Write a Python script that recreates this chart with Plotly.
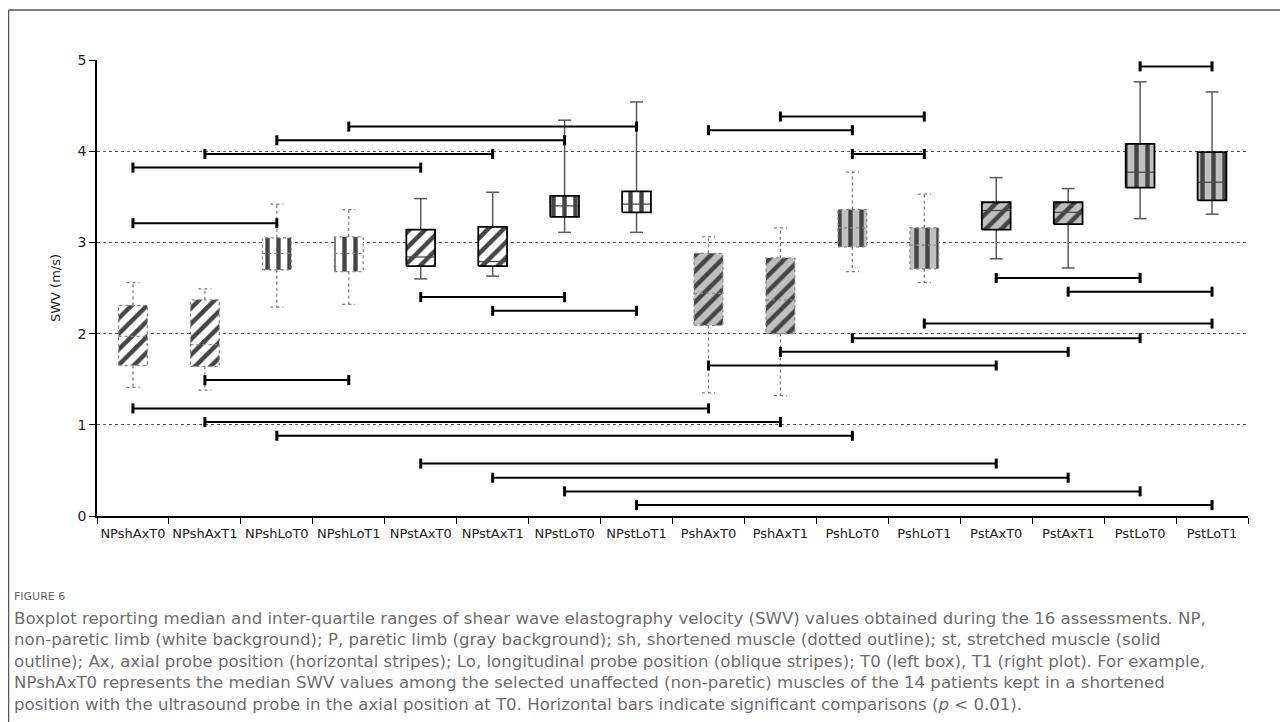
import plotly.graph_objects as go

# ---------------- data ----------------
categories = ["NPshAxT0", "NPshAxT1", "NPshLoT0", "NPshLoT1", "NPstAxT0", "NPstAxT1",
              "NPstLoT0", "NPstLoT1", "PshAxT0", "PshAxT1", "PshLoT0", "PshLoT1",
              "PstAxT0", "PstAxT1", "PstLoT0", "PstLoT1"]
q1 = [1.65, 1.64, 2.70, 2.68, 2.74, 2.74, 3.28, 3.33, 2.09, 2.00, 2.95, 2.71, 3.14, 3.20, 3.60, 3.46]
median = [1.97, 1.88, 2.88, 2.88, 2.84, 2.79, 3.40, 3.42, 2.44, 2.37, 3.16, 2.97, 3.35, 3.33, 3.77, 3.66]
q3 = [2.31, 2.37, 3.05, 3.06, 3.14, 3.17, 3.51, 3.56, 2.88, 2.83, 3.36, 3.16, 3.44, 3.44, 4.08, 3.99]
whisker_low = [1.41, 1.38, 2.29, 2.32, 2.60, 2.63, 3.11, 3.11, 1.35, 1.32, 2.68, 2.56, 2.82, 2.72, 3.26, 3.31]
whisker_high = [2.56, 2.49, 3.42, 3.36, 3.48, 3.55, 4.34, 4.54, 3.06, 3.16, 3.77, 3.53, 3.71, 3.59, 4.76, 4.65]

# significant comparisons (category index start, end, bar height)
sig_start = [14, 3, 2, 1, 0, 0, 9, 8, 10, 12, 13, 11, 10, 9, 8, 4, 5, 1, 0, 1, 2, 4, 5, 6, 7]
sig_end = [15, 7, 6, 5, 4, 2, 11, 10, 11, 14, 15, 15, 14, 13, 12, 6, 7, 3, 8, 9, 10, 12, 13, 14, 15]
sig_y = [4.93, 4.27, 4.12, 3.97, 3.82, 3.21, 4.38, 4.23, 3.97, 2.61, 2.46, 2.11, 1.95, 1.80, 1.65,
         2.40, 2.25, 1.49, 1.18, 1.03, 0.88, 0.575, 0.42, 0.27, 0.12]

y_ticks = [0, 1, 2, 3, 4, 5]

caption_title = "FIGURE 6"
caption_lines = [
    "Boxplot reporting median and inter-quartile ranges of shear wave elastography velocity (SWV) values obtained during the 16 assessments. NP,",
    "non-paretic limb (white background); P, paretic limb (gray background); sh, shortened muscle (dotted outline); st, stretched muscle (solid",
    "outline); Ax, axial probe position (horizontal stripes); Lo, longitudinal probe position (oblique stripes); T0 (left box), T1 (right plot). For example,",
    "NPshAxT0 represents the median SWV values among the selected unaffected (non-paretic) muscles of the 14 patients kept in a shortened",
    "position with the ultrasound probe in the axial position at T0. Horizontal bars indicate significant comparisons (<i>p</i> &lt; 0.01).",
]

# ---------------- geometry (pixels) ----------------
OFF = 8  # page body margin
W, H = 1288 - OFF, 722 - OFF
L, T = 97 - OFF, 60 - OFF
R = W - (1248 - OFF)
B = H - (516 - OFF)
PW, PH = W - L - R, H - T - B

BOX_HALF = 0.2
CAP_HALF = 0.09
SIG_TICK = 0.055

xs = list(range(len(categories)))
is_paretic = [c.startswith("P") for c in categories]
is_short = ["sh" in c for c in categories]
is_axial = ["Ax" in c for c in categories]

fig = go.Figure()

# box bodies with patterns
fill = ["#c0c0c0" if p else "#ffffff" for p in is_paretic]
fig.add_trace(go.Bar(
    x=xs, y=[b - a for a, b in zip(q1, q3)], base=q1, width=2 * BOX_HALF,
    marker=dict(
        color=fill,
        line=dict(width=0),
        pattern=dict(shape=["/" if a else "|" for a in is_axial],
                     fgcolor="#000000", fgopacity=1, size=11, solidity=0.4,
                     fillmode="overlay"),
    ),
    hoverinfo="skip", showlegend=False,
))


def rect_path(idx_list):
    xx, yy = [], []
    for i in idx_list:
        x0, x1 = xs[i] - BOX_HALF, xs[i] + BOX_HALF
        xx += [x0, x1, x1, x0, x0, None]
        yy += [q1[i], q1[i], q3[i], q3[i], q1[i], None]
    return xx, yy


def whisker_path(idx_list):
    xx, yy = [], []
    for i in idx_list:
        xx += [xs[i], xs[i], None, xs[i], xs[i], None,
               xs[i] - CAP_HALF, xs[i] + CAP_HALF, None, xs[i] - CAP_HALF, xs[i] + CAP_HALF, None]
        yy += [q3[i], whisker_high[i], None, q1[i], whisker_low[i], None,
               whisker_high[i], whisker_high[i], None, whisker_low[i], whisker_low[i], None]
    return xx, yy


def median_path(idx_list):
    xx, yy = [], []
    for i in idx_list:
        xx += [xs[i] - BOX_HALF, xs[i] + BOX_HALF, None]
        yy += [median[i], median[i], None]
    return xx, yy


short_idx = [i for i in xs if is_short[i]]
long_idx = [i for i in xs if not is_short[i]]

for idx, dash, wcol, ww, bcol, bw, mcol in [
    (short_idx, "dot", "#7a7a7a", 1.2, "#8a8a8a", 1.3, "#8a8a8a"),
    (long_idx, "solid", "#5a5a5a", 1.5, "#000000", 1.8, "#4a4a4a"),
]:
    wx, wy = whisker_path(idx)
    fig.add_trace(go.Scatter(x=wx, y=wy, mode="lines", line=dict(color=wcol, width=ww, dash=dash),
                             hoverinfo="skip", showlegend=False))
    mx, my = median_path(idx)
    fig.add_trace(go.Scatter(x=mx, y=my, mode="lines", line=dict(color=mcol, width=1.3, dash=dash),
                             hoverinfo="skip", showlegend=False))
    rx, ry = rect_path(idx)
    fig.add_trace(go.Scatter(x=rx, y=ry, mode="lines", line=dict(color=bcol, width=bw, dash=dash),
                             hoverinfo="skip", showlegend=False))

# significance bars
hx, hy, tx, ty = [], [], [], []
for s, e, y in zip(sig_start, sig_end, sig_y):
    hx += [xs[s], xs[e], None]
    hy += [y, y, None]
    for k in (s, e):
        tx += [xs[k], xs[k], None]
        ty += [y - SIG_TICK, y + SIG_TICK, None]
fig.add_trace(go.Scatter(x=hx, y=hy, mode="lines", line=dict(color="#000000", width=2),
                         hoverinfo="skip", showlegend=False))
fig.add_trace(go.Scatter(x=tx, y=ty, mode="lines", line=dict(color="#000000", width=3),
                         hoverinfo="skip", showlegend=False))

tick_font = dict(family="DejaVu Sans", size=13, color="#222222")

fig.update_layout(
    width=W, height=H,
    margin=dict(l=L, r=R, t=T, b=B, pad=0),
    paper_bgcolor="#ffffff", plot_bgcolor="#ffffff",
    barmode="overlay",
    showlegend=False,
    xaxis=dict(
        range=[-0.5, len(categories) - 0.5], tickmode="array", tickvals=xs, ticktext=categories,
        ticks="", showgrid=False, zeroline=False, showline=True, linecolor="#000000", linewidth=1.5,
        tickfont=tick_font, ticklabelstandoff=5,
        minor=dict(tickmode="array", tickvals=[i - 0.5 for i in range(len(categories) + 1)],
                   ticks="outside", ticklen=6, tickcolor="#000000", tickwidth=1, showgrid=False),
    ),
    yaxis=dict(
        range=[0, 5], tickmode="array", tickvals=y_ticks, ticks="outside", ticklen=6,
        tickcolor="#000000", tickfont=dict(family="DejaVu Sans", size=14, color="#222222"),
        showgrid=True, gridcolor="#555555", griddash="dot", gridwidth=1,
        zeroline=False, showline=True, linecolor="#000000", linewidth=1.5,
        title=dict(text="SWV (m/s)", font=dict(family="DejaVu Sans", size=13, color="#222222"),
                   standoff=14),
    ),
)


def px_to_paper(px, py):
    # reference screen pixels -> paper coordinates
    fx, fy = px - OFF, py - OFF
    return (fx - L) / PW, (H - B - fy) / PH


# frame lines (top and left)
fx0, fy0 = px_to_paper(8.5, 10)
fx1, _ = px_to_paper(1295, 10)
_, fy1 = px_to_paper(8.5, 730)
fig.add_shape(type="line", xref="paper", yref="paper", x0=fx0, y0=fy0, x1=fx1, y1=fy0,
              line=dict(color="#555555", width=1.5))
fig.add_shape(type="line", xref="paper", yref="paper", x0=fx0, y0=fy0, x1=fx0, y1=fy1,
              line=dict(color="#555555", width=1.5))

# caption
cx, cy = px_to_paper(12, 596)
fig.add_annotation(text=caption_title, xref="paper", yref="paper", x=cx, y=cy,
                   xanchor="left", yanchor="middle", showarrow=False,
                   font=dict(family="DejaVu Sans", size=11, color="#666666"))
for k, line in enumerate(caption_lines):
    lx, ly = px_to_paper(12, 618 + k * 21.6)
    fig.add_annotation(text=line, xref="paper", yref="paper", x=lx, y=ly,
                       xanchor="left", yanchor="middle", showarrow=False,
                       font=dict(family="DejaVu Sans", size=16.6, color="#6e6e6e"))

fig.write_html("out.html")
